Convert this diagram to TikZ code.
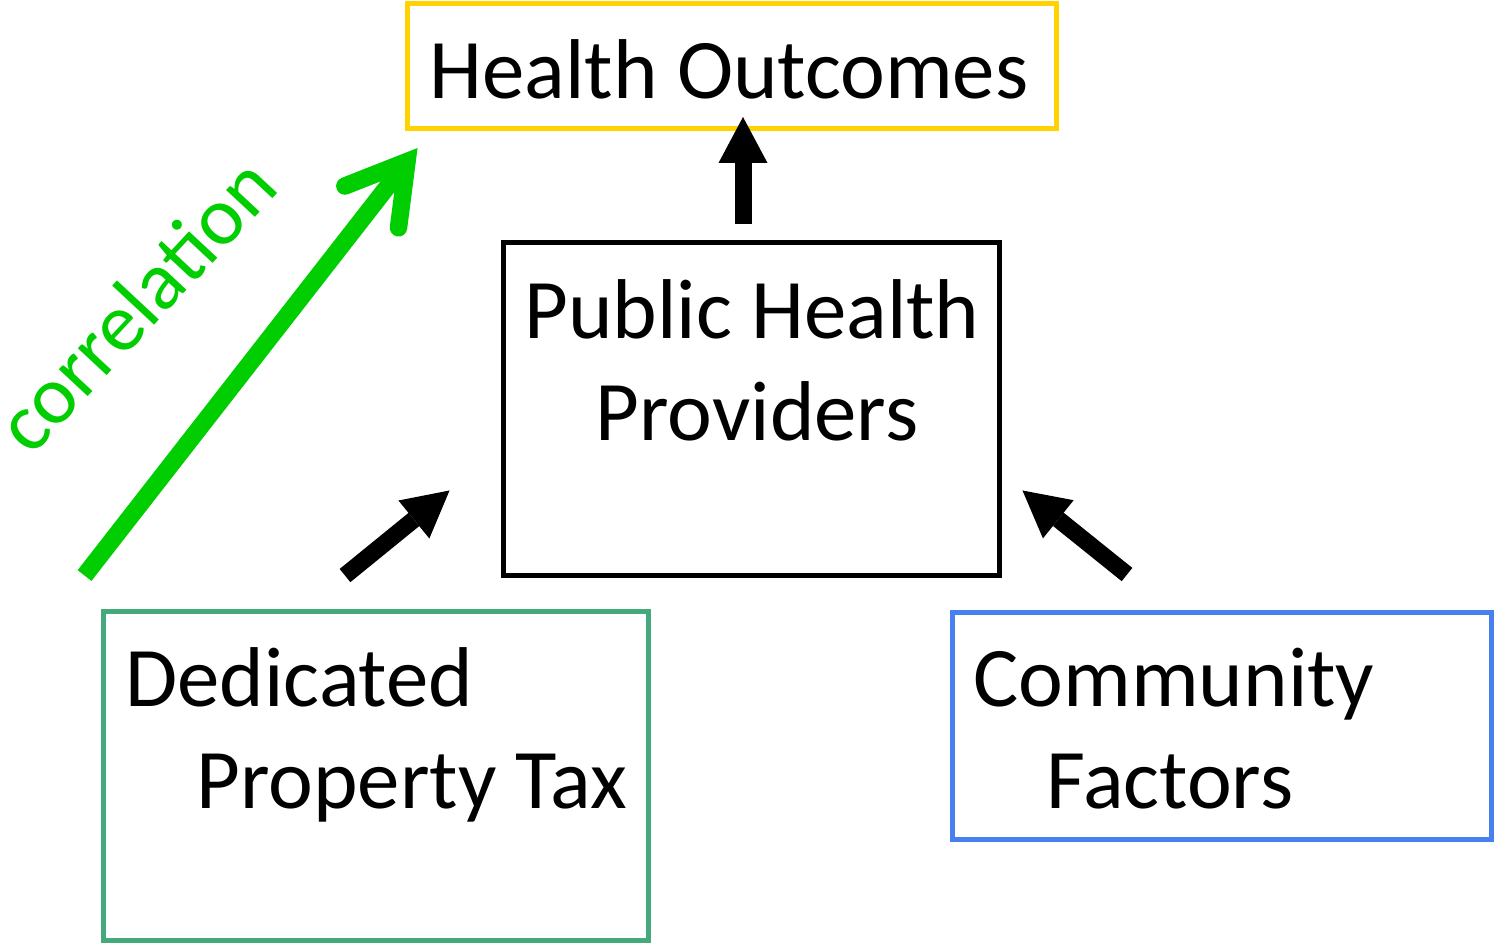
\documentclass[tikz,border=0pt]{standalone}
\usepackage{fontspec}
\setmainfont{Carlito}
\usepackage{xcolor}
\usepackage{tikz}
\usetikzlibrary{arrows.meta,calc}

\definecolor{hoyellow}{RGB}{255,210,0}
\definecolor{taxgreen}{RGB}{68,170,124}
\definecolor{comblue}{RGB}{72,128,240}
\definecolor{corrgreen}{RGB}{0,206,0}

\begin{document}
\begin{tikzpicture}[x=0.02cm, y=-0.02cm,
        box/.style={draw, rectangle, line width=0.1cm, inner sep=0pt},
        txt/.style={inner sep=0pt, font=\fontsize{48.3}{58}\selectfont},
        blkarrow/.style={line width=0.34cm, -{Triangle[length=0.92cm, width=0.98cm, line width=0pt]}},
        corrarrow/.style={draw=corrgreen, line width=0.35cm, -{Straight Barb[line cap=round, line join=miter, length=1.15cm, width=1.36cm]}}]
            \useasboundingbox (0,0) rectangle (1496,944);
            %绘制四个方框
            \node[box, draw=hoyellow, minimum width=13cm, minimum height=2.5cm] (ho) at (732,66) {};
            \node[box, minimum width=9.94cm, minimum height=6.68cm] (php) at (751.5,409) {};
            \node[box, draw=taxgreen, minimum width=10.92cm, minimum height=6.6cm] (tax) at (376,776) {};
            \node[box, draw=comblue, minimum width=10.8cm, minimum height=4.56cm] (com) at (1222,726) {};
            %绘制方框中的文字
            \node[txt, anchor=base] (hotext) at (729,98) {Health Outcomes};
            \node[txt, anchor=base] (phptext1) at (752,338) {Public Health};
            \node[txt, anchor=base] (phptext2) at (757,440) {Providers};
            \node[txt, anchor=base west] (taxtext1) at (125,706) {Dedicated};
            \node[txt, anchor=base west] (taxtext2) at (196,808) {Property Tax};
            \node[txt, anchor=base west] (comtext1) at (973,706) {Community};
            \node[txt, anchor=base west] (comtext2) at (1046,808) {Factors};
            %绘制黑色箭头
            \draw[blkarrow] ($(php.north)+(-8.5,-16)$) -- ($(ho.south)+(11,-14)$);
            \draw[blkarrow] ($(tax.north)+(-31,-33)$) -- ($(php.south west)+(-51,-88)$);
            \draw[blkarrow] ($(com.north)+(-95,-35)$) -- ($(php.south east)+(20,-88)$);
            %绘制绿色箭头和文字
            \draw[corrarrow] ($(tax.north west)+(-16,-33)$) -- ($(ho.south west)+(13,17)$);
            \node[txt, text=corrgreen, rotate=47, anchor=base, font=\fontsize{47}{56}\selectfont] (corr) at (156,324) {correlation};
\end{tikzpicture}
\end{document}
